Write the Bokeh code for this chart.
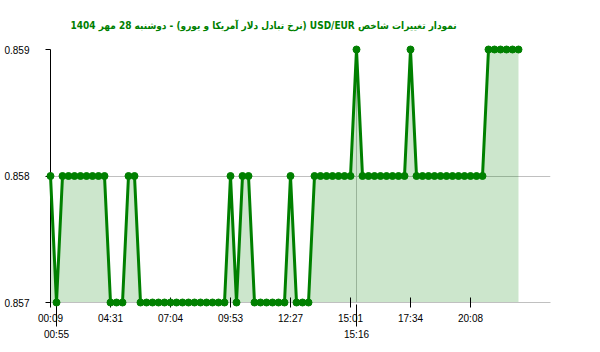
from bokeh.plotting import figure
from bokeh.models import Range1d, FixedTicker, LinearAxis, Title, ColumnDataSource
from bokeh.embed import file_html
from bokeh.resources import INLINE

title_text = "نمودار تغییرات شاخص USD/EUR (نرخ تبادل دلار آمریکا و یورو) -  دوشنبه  28 مهر 1404"

values = [
    0.858, 0.857,
    0.858, 0.858, 0.858, 0.858, 0.858, 0.858, 0.858, 0.858,
    0.857, 0.857, 0.857,
    0.858, 0.858,
    0.857, 0.857, 0.857, 0.857, 0.857, 0.857, 0.857, 0.857, 0.857, 0.857,
    0.857, 0.857, 0.857, 0.857, 0.857,
    0.858, 0.857, 0.858, 0.858,
    0.857, 0.857, 0.857, 0.857, 0.857, 0.857,
    0.858,
    0.857, 0.857, 0.857,
    0.858, 0.858, 0.858, 0.858, 0.858, 0.858, 0.858,
    0.859,
    0.858, 0.858, 0.858, 0.858, 0.858, 0.858, 0.858, 0.858,
    0.859,
    0.858, 0.858, 0.858, 0.858, 0.858, 0.858, 0.858, 0.858, 0.858, 0.858,
    0.858, 0.858,
    0.859, 0.859, 0.859, 0.859, 0.859, 0.859,
]
index = list(range(len(values)))

tick_positions = [0, 10, 20, 30, 40, 50, 60, 70]
tick_labels = ["00:09", "04:31", "07:04", "09:53", "12:27", "15:01", "17:34", "20:08"]
extra_positions = [1, 51]
extra_labels = ["00:55", "15:16"]
y_ticks = [0.857, 0.858, 0.859]

GREEN = "#008000"
GRID = "#c0c0c0"
FONT = "Liberation Sans"

src = ColumnDataSource(data=dict(x=index, y=values))

p = figure(width=600, height=352, output_backend="svg", toolbar_location=None,
           x_range=Range1d(0, 500 / 6), y_range=Range1d(min(y_ticks), max(y_ticks)),
           min_border_left=50, min_border_right=50, min_border_top=49, min_border_bottom=50)
p.outline_line_color = None
p.background_fill_color = "white"
p.border_fill_color = "white"

p.title = Title(text="\u202b" + title_text + "\u202c", align="left", offset=20,
                standoff=34, vertical_align="top",
                text_font="'DejaVu Sans Condensed', 'DejaVu Sans'", text_font_size="10px",
                text_font_style="bold", text_color=GREEN)

# y axis
ya = p.yaxis[0]
ya.ticker = FixedTicker(ticks=y_ticks)
ya.axis_line_color = "black"
ya.major_tick_line_color = "black"
ya.major_tick_out = 5
ya.major_tick_in = 0
ya.minor_tick_line_color = None
ya.major_label_standoff = 16
ya.major_label_text_font = FONT
ya.major_label_text_font_size = "10px"
ya.major_label_text_color = "black"

p.ygrid.ticker = FixedTicker(ticks=y_ticks)
p.ygrid.grid_line_color = GRID

# x axis
xa = p.xaxis[0]
xa.ticker = FixedTicker(ticks=tick_positions)
xa.major_label_overrides = dict(zip(tick_positions, tick_labels))
xa.axis_line_color = GRID
xa.major_tick_line_color = "black"
xa.major_tick_in = 5
xa.major_tick_out = 5
xa.minor_tick_line_color = None
xa.major_label_standoff = 5
xa.major_label_text_font = FONT
xa.major_label_text_font_size = "10px"
xa.major_label_text_color = "black"

xa2 = LinearAxis(ticker=FixedTicker(ticks=extra_positions),
                 major_label_overrides=dict(zip(extra_positions, extra_labels)),
                 axis_line_color=None, major_tick_line_color="black",
                 major_tick_in=22, major_tick_out=0, minor_tick_line_color=None,
                 major_label_standoff=2, major_label_text_font=FONT,
                 major_label_text_font_size="10px", major_label_text_color="black")
p.add_layout(xa2, "below")

p.xgrid.ticker = FixedTicker(ticks=[extra_positions[1]])
p.xgrid.grid_line_color = GRID

# data
p.varea(x="x", y1=min(y_ticks), y2="y", source=src, fill_color=GREEN, fill_alpha=0.2)
p.line(x="x", y="y", source=src, line_color=GREEN, line_width=3, level="overlay")
p.scatter(x="x", y="y", source=src, size=7, fill_color=GREEN, line_color=GREEN, level="overlay")

open("out.html", "w").write(file_html(p, INLINE))
